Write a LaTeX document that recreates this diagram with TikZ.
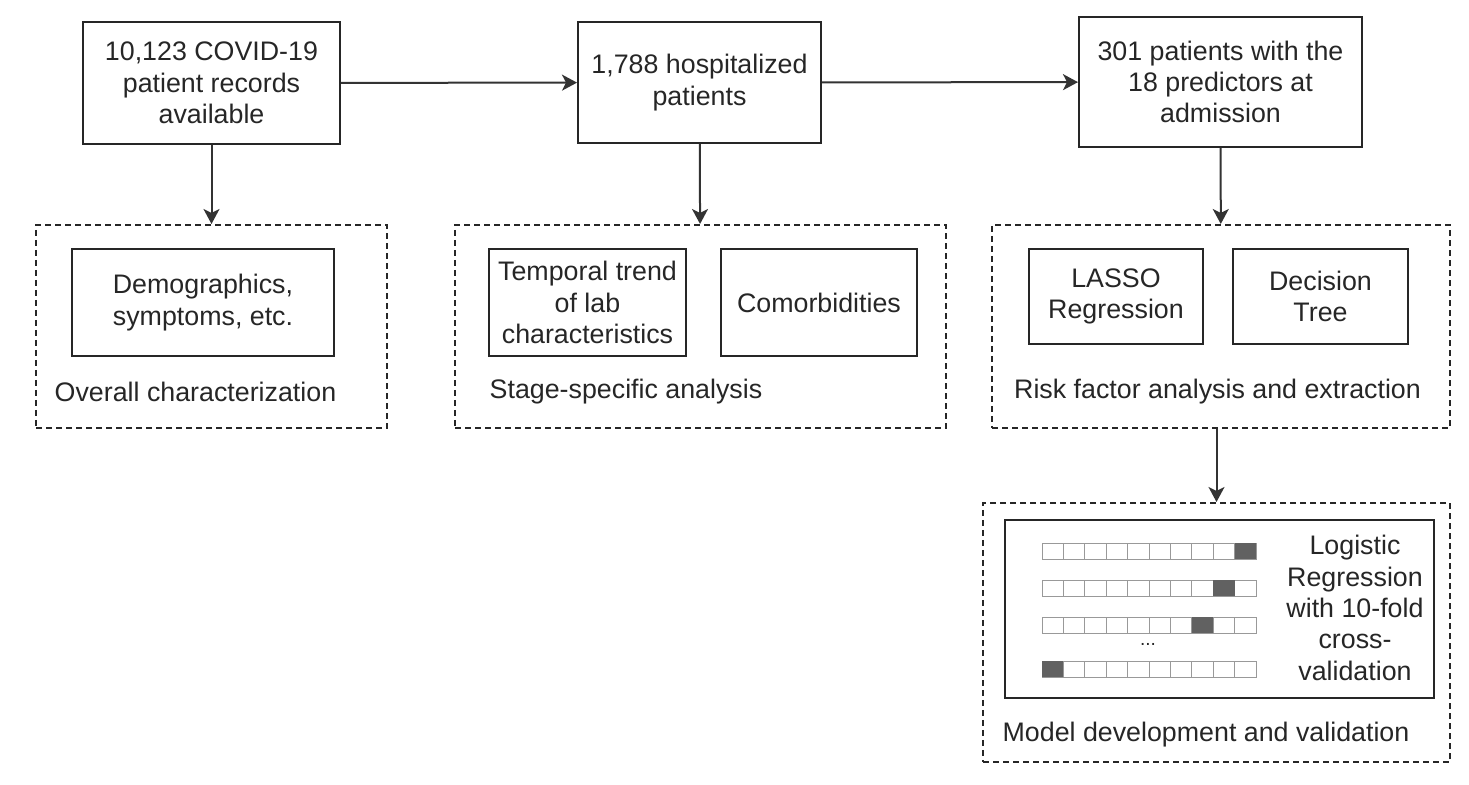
\documentclass[tikz,border=0pt]{standalone}
\usepackage{fontspec}
\setmainfont{Liberation Sans}
\usetikzlibrary{arrows.meta}
\begin{document}
\begin{tikzpicture}[x=0.5pt,y=-0.5pt]
        \tikzset{
          box/.style={draw=black!85,line width=1pt,align=center,inner sep=0pt,
            text=black!85,font=\fontsize{13.4}{15.7}\selectfont},
          group/.style={draw=black!85,line width=1pt,dash pattern=on 3pt off 2pt,inner sep=0pt},
          lbl/.style={inner sep=0pt,text=black!85,font=\fontsize{13.4}{15.7}\selectfont},
          link/.style={draw=black!80,line width=1pt,-{Stealth[length=7.5pt,width=8pt,inset=2pt]}},
          cell/.style={draw=black!40,line width=0.4pt},
        }
        \useasboundingbox (0,0) rectangle (1469,785);
        %TOP ROW
        \node[box,minimum width=128.5pt,minimum height=61pt] (records) at (211.5,83) {10,123 COVID-19\\patient records\\available};
        \node[box,minimum width=121.5pt,minimum height=60.5pt] (hosp) at (699.5,82.5) {1,788 hospitalized\\patients};
        \node[box,minimum width=141.5pt,minimum height=65pt] (pred) at (1220.5,82) {301 patients with the\\18 predictors at\\admission};

        %GROUPS
        \node[group,minimum width=175.5pt,minimum height=101.5pt] (overall) at (211.5,326.5) {};
        \node[group,minimum width=245.5pt,minimum height=101.5pt] (stage) at (700.5,326.5) {};
        \node[group,minimum width=229pt,minimum height=101.5pt] (risk) at (1221,326.5) {};
        \node[group,minimum width=233.5pt,minimum height=129.5pt] (model) at (1216.5,632.5) {};

        %INNER BOXES
        \node[box,minimum width=131pt,minimum height=53.5pt] (demo) at (203,302.5) {Demographics,\\symptoms, etc.};
        \node[box,minimum width=98.5pt,minimum height=53.5pt] (trend) at (587.5,302.5) {Temporal trend\\of lab\\characteristics};
        \node[box,minimum width=98.25pt,minimum height=53.5pt] (comorb) at (819,302.5) {Comorbidities};
        \node[box,minimum width=87pt,minimum height=47.5pt] (lasso) at (1116,296.5) {LASSO\\Regression};
        \node[box,minimum width=87.5pt,minimum height=47.5pt] (dtree) at (1320.5,296.5) {Decision\\Tree};
        \node[box,minimum width=214.5pt,minimum height=89pt] (logit) at (1219.5,609) {};
        \node[lbl,align=center] (logittext) at (1355,608) {Logistic\\Regression\\with 10-fold\\cross-\\validation};

        %LABELS
        \node[lbl] (overalllbl) at (195.5,392) {Overall characterization};
        \node[lbl] (stagelbl) at (626,392) {Stage-specific analysis};
        \node[lbl] (risklbl) at (1217.5,392) {Risk factor analysis and extraction};
        \node[lbl] (modellbl) at (1206,735) {Model development and validation};

        %FOLDS
        \foreach \y/\k [count=\r] in {551/10,588/9,625/8,669/1}{
            \foreach \c in {1,...,10}{
                \draw[cell] ({1042+(\c-1)*21.4},\y-8) rectangle ++(21.4,16);
            }
            \fill[black!62] ({1042+(\k-1)*21.4},\y-8) rectangle ++(21.4,16);
        }
        \node[lbl,font=\fontsize{9.5}{11}\selectfont] (dots) at (1148,644) {...};

        %ARROWS
        \draw[link] (records) -- (hosp);
        \draw[link] (hosp) -- (pred);
        \draw[link] (records) -- (overall);
        \draw[link] (hosp) -- (stage);
        \draw[link] (pred) -- (risk);
        \draw[link] (model.north |- risk.south) -- (model.north);
    \end{tikzpicture}
\end{document}
